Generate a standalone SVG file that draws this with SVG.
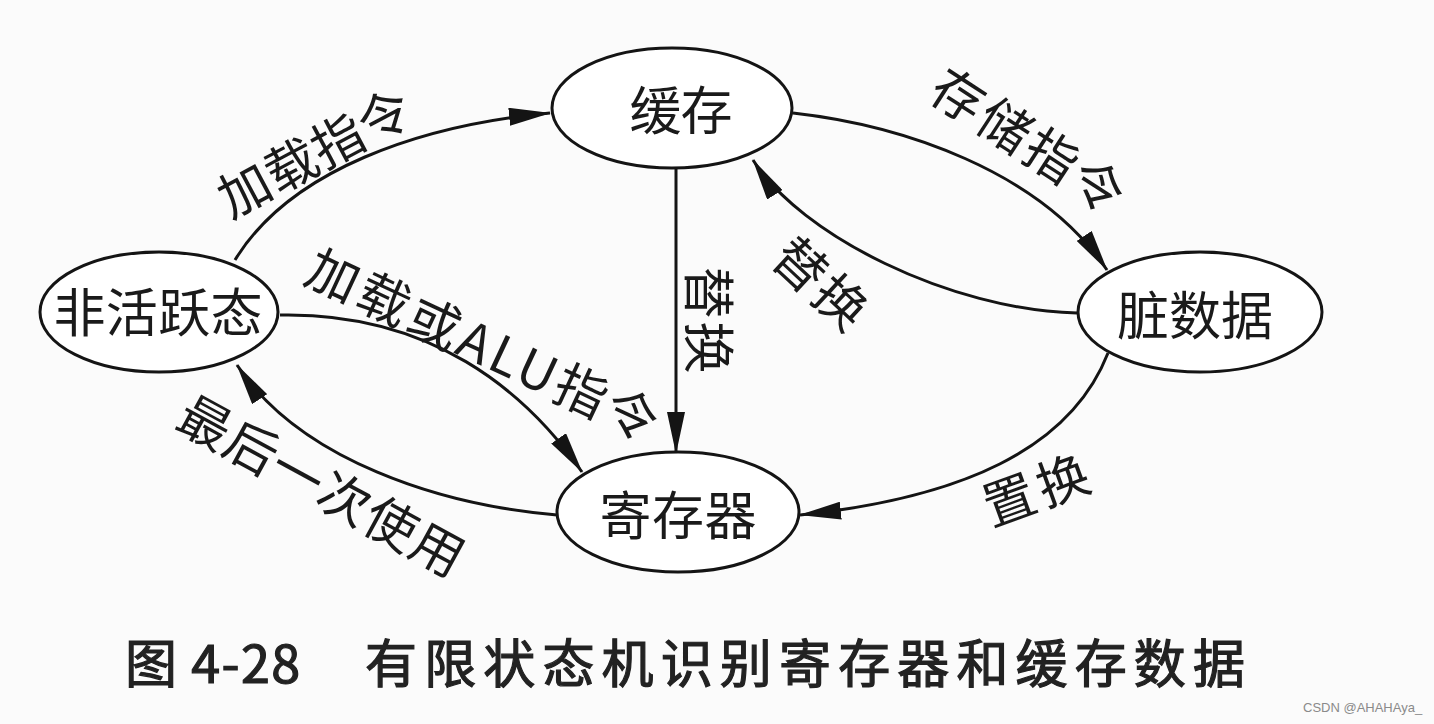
<svg xmlns="http://www.w3.org/2000/svg" width="1434" height="724" viewBox="0 0 1434 724">
<style>
.node ellipse{fill:#fff;stroke:#141414;stroke-width:3}
.t{font-family:"Noto Sans CJK SC","Noto Sans",sans-serif;font-size:52px;fill:#1a1a1a;text-anchor:middle;dominant-baseline:central}
.edge{fill:none;stroke:#141414;stroke-width:3;marker-end:url(#arr)}
.cap{font-family:"Noto Sans CJK SC","Noto Sans",sans-serif;font-size:52px;fill:#222;stroke:#222;stroke-width:1.2;dominant-baseline:central}
.wm{font-family:"Liberation Sans",Arial,sans-serif;font-size:13px;fill:#8a8a8a}
</style>
<defs>
<marker id="arr" viewBox="0 0 42 18" refX="41" refY="9" markerWidth="42" markerHeight="18" markerUnits="userSpaceOnUse" orient="auto">
<path d="M0,0 L42,9 L0,18 Z" fill="#141414"/>
</marker>
</defs>
<rect width="1434" height="724" fill="#fbfbfb"/>
<g id="connectors">
<path class="edge" d="M235,260 C290,170 420,125 550,113"/>
<path class="edge" d="M280,315 C430,312 525,390 582,472"/>
<path class="edge" d="M676,168 L676,453"/>
<path class="edge" d="M793,113 C900,125 1040,170 1107,270"/>
<path class="edge" d="M1077,313 C950,310 800,235 753,160"/>
<path class="edge" d="M1108,353 C1070,450 960,498 800,515"/>
<path class="edge" d="M557,515 C440,505 300,460 237,365"/>
</g>
<g id="edge-labels">
<text class="t" x="313" y="150" textLength="210" lengthAdjust="spacing" transform="rotate(-28 313 150)">加载指令</text>
<text class="t" x="484" y="342" textLength="381" lengthAdjust="spacing" transform="rotate(25 484 342)">加载或ALU指令</text>
<text class="t" x="711" y="320" textLength="107" lengthAdjust="spacing" transform="rotate(90 711 320)">替换</text>
<text class="t" x="1030" y="138" textLength="218" lengthAdjust="spacing" transform="rotate(33 1030 138)">存储指令</text>
<text class="t" x="823" y="281" textLength="107" lengthAdjust="spacing" transform="rotate(43 823 281)">替换</text>
<text class="t" x="1035" y="487" textLength="109" lengthAdjust="spacing" transform="rotate(-20 1035 487)">置换</text>
<text class="t" x="323" y="483" textLength="317" lengthAdjust="spacing" transform="rotate(28.6 323 483)">最后一次使用</text>
</g>
<g id="node-inactive" class="node">
<ellipse cx="159" cy="312" rx="119" ry="60"/>
<text class="t" x="158" y="309" textLength="209" lengthAdjust="spacing">非活跃态</text>
</g>
<g id="node-cache" class="node">
<ellipse cx="672" cy="108" rx="120" ry="60"/>
<text class="t" x="681" y="107" textLength="103" lengthAdjust="spacing">缓存</text>
</g>
<g id="node-dirty" class="node">
<ellipse cx="1200" cy="312" rx="122" ry="60"/>
<text class="t" x="1195" y="312" textLength="156" lengthAdjust="spacing">脏数据</text>
</g>
<g id="node-register" class="node">
<ellipse cx="678" cy="512" rx="121" ry="60"/>
<text class="t" x="678" y="512" textLength="157" lengthAdjust="spacing">寄存器</text>
</g>
<text class="cap" y="660"><tspan x="125" textLength="175" lengthAdjust="spacing">图 4-28</tspan><tspan x="365" textLength="880" lengthAdjust="spacing">有限状态机识别寄存器和缓存数据</tspan></text>
<text class="wm" x="1303" y="712">CSDN @AHAHAya_</text>
</svg>
